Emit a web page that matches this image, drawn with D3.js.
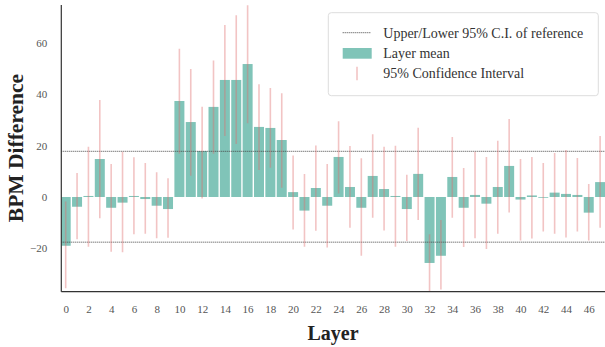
<!DOCTYPE html>
<html>
<head>
<meta charset="utf-8">
<script src="https://cdn.jsdelivr.net/npm/d3@7"></script>
<style>
  html, body { margin: 0; padding: 0; background: #fff; }
  svg { display: block; }
  text { font-family: "Liberation Serif", "DejaVu Serif", serif; }
</style>
</head>
<body>
<svg id="chart" width="605" height="347"></svg>
<script>
// Per-layer mean BPM difference
const layers = d3.range(48);
const layerMean = [
  -19.0, -3.8, 0.4, 14.8, -4.2, -2.2, 0.4, -0.8, -3.4, -4.7,
  37.4, 29.2, 17.9, 35.1, 45.6, 45.6, 51.8, 27.3, 26.9, 22.2,
  1.9, -5.3, 3.5, -3.4, 15.6, 3.9, -4.2, 8.2, 3.1, 0.4,
  -4.7, 9.0, -25.7, -22.9, 7.8, -4.2, 0.8, -2.6, 3.9, 12.1,
  -1.0, 0.6, -0.3, 1.7, 1.2, 0.8, -6.1, 5.8
];
// 95% confidence interval bounds per layer
const ciUpper = [
  -1.8, 9.3, 19.6, 37.8, 12.9, 17.6, 15.5, 13.2, 9.6, 7.3,
  57.8, 49.9, 35.2, 53.2, 67.0, 70.8, 74.7, 43.9, 42.5, 40.4,
  16.2, 9.0, 20.1, 12.9, 29.5, 19.9, 15.1, 24.4, 19.6, 20.0,
  8.7, 27.0, -14.5, -9.0, 23.4, 11.3, 17.6, 15.6, 21.9, 30.4,
  14.8, 15.6, 13.2, 17.1, 18.3, 15.2, 5.1, 23.8
];
const ciLower = [
  -35.6, -16.5, -19.4, -8.3, -21.3, -21.5, -14.5, -14.3, -16.1, -15.9,
  16.8, 8.3, -0.6, 16.8, 23.8, 20.6, 28.7, 10.5, 11.4, 3.6,
  -12.7, -19.4, -13.2, -19.7, 1.4, -12.0, -22.9, -8.1, -13.1, -19.4,
  -17.1, -9.0, -36.6, -36.0, -8.1, -19.5, -16.1, -20.3, -14.3, -6.0,
  -17.0, -16.2, -13.4, -14.3, -15.8, -13.4, -17.0, -12.0
];
// Reference 95% C.I. bounds
const refBounds = [17.8, -17.6];
const xTicks = d3.range(0, 47, 2);
const yTicks = [-20, 0, 20, 40, 60];
const legendLabels = ["Upper/Lower 95% C.I. of reference", "Layer mean", "95% Confidence Interval"];

const barColor = "#80c4b8";
const ciColor = "rgba(222,107,107,0.4)";

const svg = d3.select("#chart");
const plotLeft = 61.3, plotRight = 605, plotTop = 5, plotBottom = 291.7;

const x = d3.scaleLinear().domain([-0.5, 47.5]).range([60, 605.8]);
const y = d3.scaleLinear().domain([-36.9, 74.8]).range([plotBottom, plotTop]);
const step = x(1) - x(0);
const barW = step * 0.88;

svg.append("defs").append("clipPath").attr("id", "plot-clip")
  .append("rect").attr("x", plotLeft).attr("y", plotTop)
  .attr("width", plotRight - plotLeft).attr("height", plotBottom - plotTop);

const plot = svg.append("g").attr("clip-path", "url(#plot-clip)");

// Bars
plot.append("g").selectAll("rect").data(layers).join("rect")
  .attr("x", d => x(d) - barW / 2)
  .attr("width", barW)
  .attr("y", d => y(Math.max(0, layerMean[d])))
  .attr("height", d => Math.abs(y(layerMean[d]) - y(0)))
  .attr("fill", barColor);

// Reference bounds
plot.append("g").selectAll("line").data(refBounds).join("line")
  .attr("x1", plotLeft).attr("x2", plotRight)
  .attr("y1", d => y(d)).attr("y2", d => y(d))
  .attr("stroke", "#444").attr("stroke-width", 1)
  .attr("stroke-dasharray", "1,1");

// Confidence intervals
plot.append("g").selectAll("line").data(layers).join("line")
  .attr("x1", d => x(d)).attr("x2", d => x(d))
  .attr("y1", d => y(ciUpper[d])).attr("y2", d => y(ciLower[d]))
  .attr("stroke", ciColor).attr("stroke-width", 1.6);

// Spines
svg.append("line").attr("x1", plotLeft).attr("x2", plotLeft).attr("y1", plotTop).attr("y2", plotBottom)
  .attr("stroke", "#333").attr("stroke-width", 1.2);
svg.append("line").attr("x1", plotLeft).attr("x2", plotRight).attr("y1", plotBottom).attr("y2", plotBottom)
  .attr("stroke", "#333").attr("stroke-width", 1.2);

// Axes (labels only, no tick marks)
const xAxis = svg.append("g").attr("transform", `translate(0,${plotBottom})`)
  .call(d3.axisBottom(x).tickValues(xTicks).tickSize(0).tickPadding(14));
xAxis.select(".domain").remove();
xAxis.selectAll("text").attr("font-size", 11).attr("fill", "#555")
  .style("font-family", '"Liberation Serif", serif');

const yAxis = svg.append("g").attr("transform", `translate(${plotLeft},0)`)
  .call(d3.axisLeft(y).tickValues(yTicks).tickSize(0).tickPadding(14));
yAxis.select(".domain").remove();
yAxis.selectAll("text").attr("font-size", 11).attr("fill", "#555")
  .style("font-family", '"Liberation Serif", serif');

// Axis titles
svg.append("text").attr("x", 333).attr("y", 340)
  .attr("text-anchor", "middle").attr("font-size", 20).attr("font-weight", "bold")
  .attr("fill", "#222").text("Layer");
svg.append("text").attr("transform", "translate(23,148) rotate(-90)")
  .attr("text-anchor", "middle").attr("font-size", 21.5).attr("font-weight", "bold")
  .attr("fill", "#222").text("BPM Difference");

// Legend
const lg = svg.append("g");
lg.append("rect").attr("x", 328.3).attr("y", 12.7).attr("width", 270).attr("height", 83)
  .attr("rx", 3).attr("fill", "rgba(255,255,255,0.85)").attr("stroke", "#ddd").attr("stroke-width", 1);
lg.append("line").attr("x1", 342.7).attr("x2", 371).attr("y1", 32.7).attr("y2", 32.7)
  .attr("stroke", "#444").attr("stroke-width", 1).attr("stroke-dasharray", "1,1");
lg.append("rect").attr("x", 342.7).attr("y", 48).attr("width", 29).attr("height", 10.7)
  .attr("fill", barColor);
lg.append("line").attr("x1", 357).attr("x2", 357).attr("y1", 66.7).attr("y2", 80.3)
  .attr("stroke", ciColor).attr("stroke-width", 1.6);
lg.selectAll("text.lab").data(legendLabels).join("text").attr("class", "lab")
  .attr("x", 383.3).attr("y", (d, i) => 32.7 + i * 20.3 + 4.8)
  .attr("font-size", 14).attr("fill", "#333").text(d => d);
</script>
</body>
</html>
